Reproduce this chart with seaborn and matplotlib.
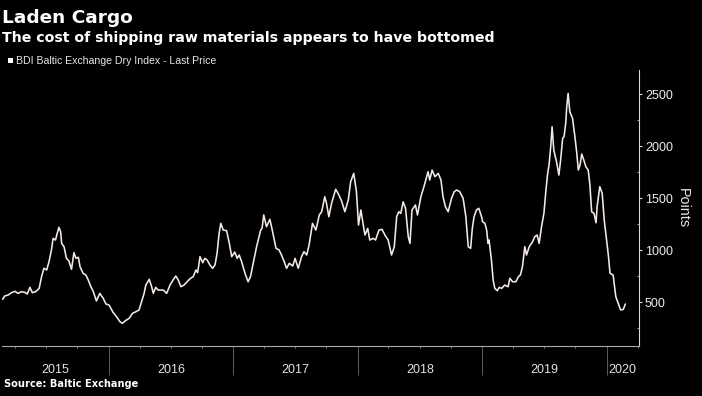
import matplotlib
matplotlib.use("Agg")
import matplotlib.pyplot as plt
import matplotlib.dates as mdates
from matplotlib.ticker import MultipleLocator, NullFormatter
from matplotlib.patches import Rectangle
from matplotlib.transforms import blended_transform_factory
import seaborn as sns
import pandas as pd

# ---------------- data ----------------
title = "Laden Cargo"
subtitle = "The cost of shipping raw materials appears to have bottomed"
series_label = "BDI Baltic Exchange Dry Index - Last Price"
source = "Source: Baltic Exchange"
y_label = "Points"

dates = [
    "2015-02-24", "2015-03-02", "2015-03-12", "2015-03-22", "2015-04-01", "2015-04-10",
    "2015-04-20", "2015-04-30", "2015-05-07", "2015-05-15", "2015-05-22", "2015-06-01",
    "2015-06-11", "2015-06-18", "2015-06-25", "2015-07-03", "2015-07-10", "2015-07-17",
    "2015-07-22", "2015-07-29", "2015-08-03", "2015-08-08", "2015-08-13", "2015-08-16",
    "2015-08-23", "2015-08-30", "2015-09-06", "2015-09-14", "2015-09-21", "2015-09-27",
    "2015-10-04", "2015-10-09", "2015-10-18", "2015-10-26", "2015-11-02", "2015-11-09",
    "2015-11-17", "2015-11-26", "2015-12-06", "2015-12-16", "2015-12-24", "2016-01-02",
    "2016-01-14", "2016-01-24", "2016-02-03", "2016-02-10", "2016-02-19", "2016-03-01",
    "2016-03-11", "2016-03-21", "2016-03-30", "2016-04-08", "2016-04-14", "2016-04-19",
    "2016-04-29", "2016-05-06", "2016-05-11", "2016-05-18", "2016-05-25", "2016-06-09",
    "2016-06-19", "2016-06-29", "2016-07-08", "2016-07-16", "2016-07-23", "2016-07-31",
    "2016-08-09", "2016-08-18", "2016-08-28", "2016-09-05", "2016-09-13", "2016-09-18",
    "2016-09-25", "2016-10-03", "2016-10-09", "2016-10-16", "2016-10-24", "2016-11-01",
    "2016-11-08", "2016-11-14", "2016-11-20", "2016-11-25", "2016-12-02", "2016-12-12",
    "2016-12-20", "2016-12-27", "2017-01-05", "2017-01-12", "2017-01-18", "2017-01-25",
    "2017-02-04", "2017-02-13", "2017-02-20", "2017-02-28", "2017-03-10", "2017-03-22",
    "2017-03-26", "2017-03-31", "2017-04-08", "2017-04-18", "2017-04-26", "2017-05-06",
    "2017-05-15", "2017-05-22", "2017-05-30", "2017-06-06", "2017-06-14", "2017-06-24",
    "2017-07-01", "2017-07-10", "2017-07-20", "2017-07-27", "2017-08-04", "2017-08-11",
    "2017-08-21", "2017-08-31", "2017-09-10", "2017-09-17", "2017-09-26", "2017-10-01",
    "2017-10-08", "2017-10-16", "2017-10-28", "2017-11-04", "2017-11-14", "2017-11-24",
    "2017-12-04", "2017-12-11", "2017-12-20", "2017-12-28", "2018-01-03", "2018-01-10",
    "2018-01-17", "2018-01-22", "2018-01-30", "2018-02-05", "2018-02-15", "2018-02-22",
    "2018-03-04", "2018-03-13", "2018-03-23", "2018-03-31", "2018-04-10", "2018-04-18",
    "2018-04-25", "2018-05-01", "2018-05-07", "2018-05-14", "2018-05-21", "2018-05-29",
    "2018-06-03", "2018-06-09", "2018-06-19", "2018-06-25", "2018-07-05", "2018-07-14",
    "2018-07-22", "2018-07-26", "2018-07-31", "2018-08-07", "2018-08-15", "2018-08-25",
    "2018-09-02", "2018-09-08", "2018-09-15", "2018-09-23", "2018-10-03", "2018-10-11",
    "2018-10-18", "2018-10-27", "2018-11-06", "2018-11-14", "2018-11-21", "2018-11-28",
    "2018-12-03", "2018-12-08", "2018-12-15", "2018-12-22", "2018-12-30", "2019-01-02",
    "2019-01-09", "2019-01-14", "2019-01-18", "2019-01-21", "2019-01-28", "2019-02-02",
    "2019-02-07", "2019-02-14", "2019-02-20", "2019-02-27", "2019-03-08", "2019-03-18",
    "2019-03-23", "2019-03-31", "2019-04-10", "2019-04-17", "2019-04-23", "2019-04-29",
    "2019-05-06", "2019-05-11", "2019-05-19", "2019-05-29", "2019-06-04", "2019-06-11",
    "2019-06-17", "2019-06-24", "2019-07-01", "2019-07-07", "2019-07-12", "2019-07-16",
    "2019-07-21", "2019-07-25", "2019-07-30", "2019-08-07", "2019-08-14", "2019-08-19",
    "2019-08-25", "2019-08-29", "2019-09-03", "2019-09-06", "2019-09-10", "2019-09-15",
    "2019-09-23", "2019-09-30", "2019-10-05", "2019-10-10", "2019-10-15", "2019-10-20",
    "2019-10-26", "2019-11-01", "2019-11-08", "2019-11-13", "2019-11-18", "2019-11-25",
    "2019-12-01", "2019-12-04", "2019-12-12", "2019-12-19", "2019-12-25", "2020-01-01",
    "2020-01-06", "2020-01-11", "2020-01-20", "2020-01-28", "2020-02-04", "2020-02-11",
    "2020-02-19", "2020-02-25",
]

values = [
    526, 558, 567, 590, 603, 583,
    599, 593, 577, 641, 590, 599,
    631, 743, 824, 808, 888, 1000,
    1112, 1096, 1160, 1218, 1176, 1064,
    1032, 920, 897, 814, 974, 920,
    930, 839, 776, 760, 712, 654,
    599, 510, 583, 535, 481, 471,
    400, 359, 311, 295, 320, 343,
    391, 407, 423, 519, 583, 663,
    718, 647, 583, 641, 615, 615,
    583, 663, 712, 750, 712, 647,
    663, 695, 728, 743, 808, 782,
    936, 878, 920, 904, 856, 824,
    856, 968, 1160, 1256, 1192, 1186,
    1064, 936, 980, 920, 952, 888,
    776, 695, 743, 872, 1032, 1192,
    1208, 1337, 1224, 1295, 1176, 1016,
    1000, 952, 888, 824, 872, 846,
    920, 824, 936, 984, 952, 1048,
    1256, 1192, 1337, 1368, 1512, 1449,
    1320, 1449, 1584, 1545, 1474, 1368,
    1481, 1657, 1737, 1560, 1240, 1385,
    1240, 1144, 1208, 1096, 1112, 1096,
    1192, 1199, 1135, 1096, 952, 1032,
    1320, 1368, 1352, 1464, 1401, 1128,
    1064, 1385, 1433, 1337, 1512, 1609,
    1705, 1753, 1673, 1769, 1705, 1737,
    1673, 1512, 1416, 1368, 1497, 1561,
    1577, 1561, 1497, 1320, 1032, 1016,
    1208, 1320, 1385, 1401, 1320, 1272,
    1256, 1192, 1064, 1096, 904, 712,
    631, 609, 641, 631, 663, 647,
    728, 695, 695, 743, 760, 839,
    1032, 952, 1032, 1080, 1128, 1144,
    1064, 1224, 1352, 1577, 1737, 1817,
    1993, 2185, 1961, 1849, 1721, 1865,
    2074, 2089, 2218, 2378, 2506, 2330,
    2266, 2089, 1945, 1769, 1817, 1923,
    1865, 1801, 1769, 1625, 1368, 1352,
    1262, 1416, 1609, 1545, 1288, 1096,
    952, 776, 760, 551, 487, 423,
    430, 481,
]

year_labels = ["2015", "2016", "2017", "2018", "2019", "2020"]
y_ticks = [500, 1000, 1500, 2000, 2500]

df = pd.DataFrame({"date": pd.to_datetime(dates), "points": values})

# ---------------- style ----------------
sns.set_theme(style="dark")
plt.rcParams["font.family"] = ["Liberation Sans", "DejaVu Sans"]

W, H = 702, 396
BG = "black"
fig = plt.figure(figsize=(W / 100, H / 100), dpi=100, facecolor=BG)
ax = fig.add_axes([2 / W, 1 - 346 / H, (639 - 2) / W, (346 - 70) / H])
ax.set_facecolor(BG)
ax.grid(False)

sns.lineplot(data=df, x="date", y="points", ax=ax, color="#f3eae5",
             linewidth=1.15, legend=False)

x0, x1 = pd.Timestamp("2015-02-22"), pd.Timestamp("2020-04-05")
ax.set_xlim(x0, x1)
ax.set_ylim(77, 2731)
ax.set_xlabel("")
ax.set_ylabel("")

# spines
for s in ["top", "left"]:
    ax.spines[s].set_visible(False)
ax.spines["right"].set_color("#d8d8d8")
ax.spines["right"].set_linewidth(0.8)
ax.spines["bottom"].set_color("#b5a7a3")
ax.spines["bottom"].set_linewidth(0.8)

# y axis on right
ax.yaxis.tick_right()
ax.set_yticks(y_ticks)
ax.set_yticklabels([str(v) for v in y_ticks])
ax.yaxis.set_minor_locator(MultipleLocator(250))
ax.tick_params(axis="y", which="major", direction="out", length=2.5, width=0.8,
               color="#d8d8d8", labelcolor="#ececec", labelsize=9, pad=1.8,
               left=False, right=True)
ax.tick_params(axis="y", which="minor", direction="in", length=1.5, width=0.6,
               color="#bbbbbb", left=False, right=True)

# x axis: year separators + quarterly minor ticks
ax.xaxis.set_major_locator(mdates.YearLocator())
ax.xaxis.set_major_formatter(NullFormatter())
ax.xaxis.set_minor_locator(mdates.MonthLocator(bymonth=[4, 7, 10]))
ax.tick_params(axis="x", which="major", direction="out", length=21, width=0.7,
               color="#5c5c5c", bottom=True)
ax.tick_params(axis="x", which="minor", direction="out", length=1.5, width=0.6,
               color="#9a8f8c", bottom=True)

trans = blended_transform_factory(ax.transData, ax.transAxes)
for lab in year_labels:
    yr = int(lab)
    a = max(pd.Timestamp(f"{yr}-01-01"), x0)
    b = min(pd.Timestamp(f"{yr + 1}-01-01"), x1)
    c = a + (b - a) / 2
    ax.text(mdates.date2num(c), (346 - 373) / 276, lab, transform=trans,
            ha="center", va="baseline", fontsize=9, color="#e2e2e2")

# y label
fig.text(683 / W, 1 - 208 / H, y_label, rotation=270, ha="center", va="center",
         fontsize=10.4, color="#e6e6e6")

# titles
fig.text(2 / W, 1 - 23 / H, title, ha="left", va="baseline", fontsize=13.3,
         fontweight="bold", color="white", family="DejaVu Sans")
fig.text(2 / W, 1 - 41.7 / H, subtitle, ha="left", va="baseline", fontsize=10.2,
         fontweight="bold", color="white", family="DejaVu Sans")

# legend
fig.patches.append(Rectangle((7.6 / W, 1 - 63 / H), 5 / W, 5.5 / H,
                             transform=fig.transFigure, facecolor="white",
                             edgecolor="none"))
fig.text(16 / W, 1 - 63.5 / H, series_label, ha="left", va="baseline",
         fontsize=7.6, color="#e6e6e6")

# source
fig.text(4.5 / W, 1 - 387.3 / H, source, ha="left", va="baseline", fontsize=7.1,
         fontweight="bold", color="white", family="DejaVu Sans")

fig.savefig("out.png", dpi=100, facecolor=BG)
